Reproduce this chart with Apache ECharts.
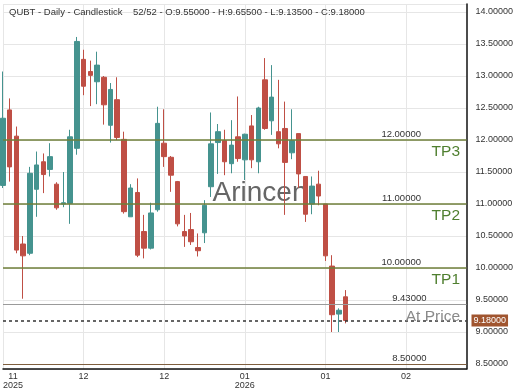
<!DOCTYPE html>
<html><head><meta charset="utf-8">
<script src="https://cdn.jsdelivr.net/npm/echarts@6/dist/echarts.min.js"></script>
<style>html,body{margin:0;padding:0;background:#fff}#c{width:520px;height:390px}</style>
</head><body><div id="c"></div>
<script>
const ticker = 'QUBT';
const opens  = [11.29,12.47,12.06,10.375,10.23,11.23,11.66,11.54,11.31,11.00,11.01,11.87,13.26,13.07,12.91,12.98,12.23,12.63,12.01,10.80,11.18,10.57,10.31,10.91,11.95,11.73,11.35,10.57,10.60,10.32,10.55,11.27,11.96,11.99,11.63,12.05,11.69,12.22,11.66,12.94,12.30,12.13,12.18,11.80,12.10,11.43,11.00,11.31,11.00,10.03,9.28,9.55];
const closes = [12.34,11.58,10.28,10.19,11.48,11.61,11.46,11.74,10.94,11.02,12.05,13.54,12.84,13.01,13.17,12.55,12.79,12.04,10.88,11.25,10.20,10.31,10.86,12.26,11.74,11.45,10.69,10.50,10.41,10.27,10.98,11.94,12.13,11.66,11.92,11.71,12.09,11.69,12.50,12.18,12.67,11.94,11.65,11.99,11.47,10.84,11.28,11.125,10.19,9.27,9.34,9.18];
const lows   = [11.25,11.35,10.23,9.52,10.20,10.80,11.17,11.43,10.91,10.95,10.69,11.77,12.70,12.53,12.56,12.24,11.96,12.00,10.85,10.80,10.17,10.15,10.29,10.88,11.58,11.19,10.65,10.33,10.36,10.18,10.39,11.11,11.47,11.45,11.48,11.66,11.375,11.56,11.48,12.16,12.08,11.87,10.83,11.70,11.25,10.72,10.84,10.98,10.11,9.00,9.00,9.135];
const highs  = [13.07,12.65,12.21,10.50,11.58,11.82,11.79,11.95,11.34,11.50,12.16,13.61,13.41,13.24,13.38,13.00,12.89,12.98,12.13,11.31,11.40,10.83,11.02,12.52,12.48,11.75,11.36,10.83,10.86,10.54,11.06,12.43,12.25,12.16,12.31,12.68,12.10,12.39,12.52,13.28,13.17,12.94,12.60,12.48,12.10,11.43,11.43,11.52,11.00,10.20,9.37,9.655];
const slotCount = 70;
const tickIndex = [0,12,24,36,48,60];
const tickText  = ['11\n2025','12','12','01\n2026','01','02'];
const tpLevels = [12, 11, 10];
const tpNames  = ['TP3','TP2','TP1'];
const refLevel = 9.43;
const lastPrice = 9.18;
const floorLevel = 8.5;

const FONT = 'Liberation Sans, Arial, sans-serif';
const UP = '#45938f', DOWN = '#bf4f45';
const categories = Array.from({length: slotCount}, (_, i) => String(i));
const ohlc = opens.map((o, i) => [o, closes[i], lows[i], highs[i]]);
const n = opens.length;
const title = ticker + ' - Daily - Candlestick    ' + n + '/' + n +
  ' - O:' + opens[n-1].toFixed(5) + ' - H:' + highs[n-1].toFixed(5) +
  ' - L:' + lows[n-1].toFixed(5) + ' - C:' + closes[n-1].toFixed(5);

const valLabel = (txt, dx) => ({show: true, formatter: txt, position: 'insideEndTop', distance: [dx, 1],
  color: '#333', fontSize: 9.5, fontFamily: FONT});
const hidden = {color: 'rgba(0,0,0,0)', width: 1, type: 'solid'};
const mlData = [];
tpLevels.forEach((v, i) => {
  mlData.push({yAxis: v, lineStyle: {color: '#6f7f3a', width: 1.5, type: 'solid'}, label: valLabel(v.toFixed(5), 45.5)});
  mlData.push({yAxis: v, lineStyle: hidden, label: {show: true, formatter: tpNames[i], position: 'insideEndBottom',
    distance: [6.5, 4], color: '#4f7f2f', fontSize: 15.5, fontFamily: FONT}});
});
mlData.push({yAxis: refLevel, lineStyle: {color: '#9a9a9a', width: 1, type: 'solid'}, label: valLabel(refLevel.toFixed(5), 40)});
mlData.push({yAxis: floorLevel, lineStyle: {color: '#7f5f3f', width: 1.2, type: 'solid'}, label: valLabel(floorLevel.toFixed(5), 40)});
mlData.push({yAxis: lastPrice, lineStyle: {color: '#333', width: 1.5, type: [3, 3]}, label: {show: true, formatter: lastPrice.toFixed(5),
  position: 'end', distance: 5, color: '#fff', backgroundColor: '#a0552f', padding: [2, 2, 1, 2], fontSize: 9, fontFamily: FONT}});
mlData.push({yAxis: lastPrice, lineStyle: hidden, label: {show: true, formatter: 'At Price', position: 'insideEndTop',
  distance: [6.5, -4], color: '#8a8a8a', fontSize: 15.5, fontFamily: FONT}});

const chart = echarts.init(document.getElementById('c'), null, {renderer: 'canvas'});
chart.setOption({
  animation: false,
  backgroundColor: '#fff',
  title: {text: title, left: 9, top: 7, padding: 0,
    textStyle: {fontSize: 9.5, fontWeight: 'normal', color: '#333', fontFamily: FONT}},
  graphic: [{type: 'text', left: 'center', top: 179, z: 1,
    style: {text: 'Arincen', font: '28px ' + FONT, fill: '#666'}}],
  grid: {left: 3, right: 53.5, top: 4, bottom: 21, containLabel: false, outerBoundsMode: 'none'},
  xAxis: {
    type: 'category', data: categories, boundaryGap: false,
    axisLine: {show: true, lineStyle: {color: '#111', width: 1.5}},
    axisTick: {show: false},
    axisLabel: {
      interval: (i) => tickIndex.includes(i),
      margin: 3, fontSize: 9, lineHeight: 9, color: '#333', fontFamily: FONT,
      formatter: (v, i) => {
        const k = tickIndex.indexOf(Number(v));
        if (k < 0) return '';
        const t = tickText[k];
        if (k === 0) return t.split('\n').map(s => '{f|' + s + '}').join('\n');
        return t;
      },
      rich: {f: {fontSize: 9, lineHeight: 9, color: '#333', fontFamily: FONT, padding: [0, 0, 0, 20]}}
    },
    splitLine: {show: true, interval: (i) => tickIndex.includes(i), lineStyle: {color: '#e6e6e6', width: 1}}
  },
  yAxis: {
    type: 'value', position: 'right', scale: true,
    min: 8.421875, max: 14.125, minInterval: 0.5, maxInterval: 0.5, splitNumber: 11,
    axisLine: {show: true, lineStyle: {color: '#111', width: 1.5}},
    axisTick: {show: false},
    axisLabel: {margin: 9, fontSize: 9, color: '#333', fontFamily: FONT, showMinLabel: false, showMaxLabel: false,
      formatter: (v) => v.toFixed(5)},
    splitLine: {show: true, lineStyle: {color: '#e6e6e6', width: 1}}
  },
  series: [{
    type: 'candlestick', data: ohlc, barWidth: 5, clip: false,
    itemStyle: {color: UP, color0: DOWN, borderColor: UP, borderColor0: DOWN, borderWidth: 1},
    markLine: {silent: true, symbol: 'none', animation: false, data: mlData}
  }]
});
</script></body></html>
